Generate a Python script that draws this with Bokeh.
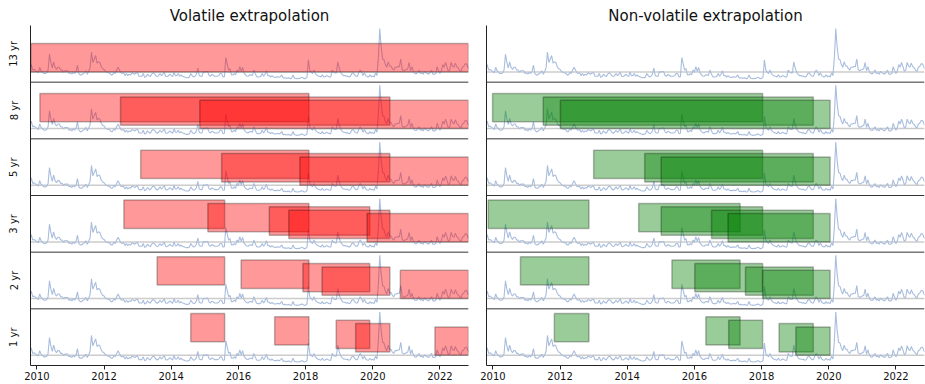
import numpy as np
from bokeh.plotting import figure
from bokeh.models import Range1d, FixedTicker, Span
from bokeh.layouts import row
from bokeh.embed import file_html
from bokeh.resources import INLINE

# ---------------- data ----------------
ROW_LABELS = ["13 yr", "8 yr", "5 yr", "3 yr", "2 yr", "1 yr"]
YEAR_TICKS = [2010, 2012, 2014, 2016, 2018, 2020, 2022]
X_START, X_END = 2009.81, 2022.85

# volatility index, sampled on the 1st and 16th of each month
vix_2009 = [22, 30, 22, 23, 21]  # from mid-October
vix_2010 = [20, 18, 26, 21, 19, 17, 17, 18, 22, 45, 33, 25, 34, 26, 23, 26, 26, 22, 22, 19, 21, 21, 21, 17]
vix_2011 = [18, 16, 19, 17, 20, 29, 17, 15, 15, 17, 18, 21, 16, 20, 25, 48, 33, 38, 43, 32, 34, 33, 27, 24]
vix_2012 = [23, 20, 19, 18, 18, 15, 15, 19, 17, 22, 26, 22, 18, 17, 18, 14, 17, 14, 16, 15, 18, 17, 16, 18]
vix_2013 = [18, 13, 13, 13, 17, 11.5, 12.5, 16, 14, 12.5, 16, 18, 17, 14, 12.5, 14, 17, 14, 16, 19, 13, 12.5, 13.7, 16]
vix_2014 = [14, 12.5, 19, 14, 14, 17, 13, 15, 13, 12.5, 11.5, 11, 11, 12, 17, 14, 12, 13, 16, 25, 14, 13, 13, 20]
vix_2015 = [19, 20, 20, 14.5, 13, 15.5, 14.5, 13, 13, 13, 14, 17, 17, 12, 12.5, 40, 31, 22, 24, 15, 15, 17, 15, 22]
vix_2016 = [19, 27, 20, 26, 18, 15, 13.5, 13, 15, 15, 14, 22, 17, 12.5, 12, 12, 13, 17, 13, 16, 21, 14, 14, 12]
vix_2017 = [14, 12, 11.5, 11.5, 12.5, 11.5, 12.5, 15, 10.5, 11, 10, 10.5, 11, 9.5, 10, 15, 10.5, 10, 9.5, 10, 10, 11.5, 11, 9.5]
vix_2018 = [10, 11.5, 37, 22, 19, 17, 22, 17, 15, 13.5, 13, 12, 15, 12, 12.5, 14, 13, 12, 12, 22, 19, 18, 18, 34]
vix_2019 = [25, 19, 16, 14, 14, 13, 13.5, 12, 13, 17, 18, 15, 13, 13, 18, 22, 19, 14, 18, 14, 12.5, 12, 15, 12.5]
vix_2020 = [13.5, 12, 18, 14, 40, 82, 55, 38, 37, 30, 26, 34, 28, 28, 24, 22, 26, 26, 27, 27, 38, 23, 21, 22]
vix_2021 = [23, 24, 33, 21, 27, 20, 17, 16.5, 18.5, 22, 17, 18, 16, 20, 18, 17, 16, 19, 22, 16, 16, 17, 27, 21]
vix_2022 = [17, 21, 30, 26, 33, 27, 20, 22, 33, 28, 26, 32, 27, 25, 22, 20, 26, 27, 31, 31, 26, 24]

# extrapolation windows (start / end, decimal years), one list per row
vol_start = [
    [2009.82],
    [2010.09, 2012.49, 2014.85],
    [2013.09, 2015.50, 2017.83],
    [2012.59, 2015.09, 2016.92, 2017.50, 2019.83],
    [2013.58, 2016.08, 2017.92, 2018.49, 2020.82],
    [2014.58, 2017.08, 2018.91, 2019.49, 2021.85],
]
vol_end = [
    [2022.85],
    [2018.10, 2020.51, 2022.85],
    [2018.10, 2020.51, 2022.85],
    [2015.59, 2018.10, 2019.91, 2020.51, 2022.85],
    [2015.59, 2018.10, 2019.91, 2020.51, 2022.85],
    [2015.59, 2018.10, 2019.91, 2020.51, 2022.85],
]
nonvol_start = [
    [],
    [2009.99, 2011.50, 2012.01],
    [2013.00, 2014.52, 2015.01],
    [2009.86, 2014.34, 2015.01, 2016.51, 2017.00],
    [2010.82, 2015.33, 2016.01, 2017.52, 2018.03],
    [2011.83, 2016.34, 2017.02, 2018.52, 2019.02],
]
nonvol_end = [
    [],
    [2018.03, 2019.54, 2020.04],
    [2018.03, 2019.54, 2020.04],
    [2012.86, 2017.36, 2018.03, 2019.54, 2020.04],
    [2012.86, 2017.36, 2018.03, 2019.54, 2020.04],
    [2012.86, 2017.36, 2018.03, 2019.54, 2020.04],
]

# ---------------- layout constants ----------------
V0 = 4.5          # value at the bottom of each row
R = 82            # value span of each row
BASELINE = 19.3   # grey reference level
RECT_H = 41
STEP = 4.9
N = len(ROW_LABELS)

# assemble the series
years = [(2009, vix_2009, 19), (2010, vix_2010, 0), (2011, vix_2011, 0), (2012, vix_2012, 0),
         (2013, vix_2013, 0), (2014, vix_2014, 0), (2015, vix_2015, 0), (2016, vix_2016, 0),
         (2017, vix_2017, 0), (2018, vix_2018, 0), (2019, vix_2019, 0), (2020, vix_2020, 0),
         (2021, vix_2021, 0), (2022, vix_2022, 0)]
xs, vs = [], []
for yr, vals, off in years:
    for i, v in enumerate(vals):
        xs.append(yr + (off + i) / 24.0)
        vs.append(v)
xs = np.array(xs)
vs = np.array(vs, dtype=float)

FONT = "DejaVu Sans"


def make_panel(title, starts, ends, color, labels, width, mb_left, mb_right):
    p = figure(width=width, height=384, x_range=Range1d(X_START, X_END),
               y_range=Range1d(0, N * R), output_backend="svg", toolbar_location=None,
               min_border_left=mb_left, min_border_right=mb_right,
               min_border_top=25, min_border_bottom=19, title=title)
    p.title.text_font = FONT
    p.title.text_font_size = "15px"
    p.title.text_font_style = "normal"
    p.title.text_color = "#111111"
    p.title.align = "center"
    p.title.standoff = 2
    p.xgrid.visible = False
    p.ygrid.visible = False
    p.outline_line_color = None

    for k in range(N):
        rb = (N - 1 - k) * R
        gl = Span(location=rb + BASELINE - V0, dimension="width", line_color="#cccccc",
                  line_width=1.5, level="underlay")
        p.add_layout(gl)
        p.line(xs, rb + vs - V0, line_color="#a9bddd", line_width=1.1)
        n = len(starts[k])
        if n:
            lv = np.array([n - 1 - i for i in range(n)])
            bottom = rb + BASELINE - V0 + lv * STEP
            p.quad(left=starts[k], right=ends[k], bottom=bottom, top=bottom + RECT_H,
                   fill_color=color, fill_alpha=0.4, line_color="black", line_alpha=0.27,
                   line_width=1.5)
    for k in range(1, N):
        p.add_layout(Span(location=k * R, dimension="width", line_color="#333333", line_width=1))

    xa = p.xaxis[0]
    xa.ticker = FixedTicker(ticks=YEAR_TICKS)
    xa.major_label_text_font = FONT
    xa.major_label_text_font_size = "10px"
    xa.major_label_text_color = "#111111"
    xa.axis_line_color = "#222222"
    xa.major_tick_line_color = "#222222"
    xa.major_tick_out = 4
    xa.major_tick_in = 0
    xa.minor_tick_line_color = None
    xa.major_label_standoff = 2

    ya = p.yaxis[0]
    ya.axis_line_color = "#222222"
    ya.major_tick_line_color = None
    ya.minor_tick_line_color = None
    if labels:
        centers = [(N - 1 - k) * R + R // 2 for k in range(N)]
        ya.ticker = FixedTicker(ticks=centers)
        ya.major_label_overrides = {c: lab for c, lab in zip(centers, ROW_LABELS)}
        ya.major_label_orientation = "vertical"
        ya.major_label_text_font = FONT
        ya.major_label_text_font_size = "10px"
        ya.major_label_text_color = "#111111"
        ya.major_label_standoff = 5
    else:
        ya.ticker = FixedTicker(ticks=[])
        ya.major_label_text_font_size = "0px"
    return p


p1 = make_panel("Volatile extrapolation", vol_start, vol_end, "red", True, 477, 30, 9)
p2 = make_panel("Non-volatile extrapolation", nonvol_start, nonvol_end, "green", False, 448, 9, 1)

layout = row(p1, p2)
open("out.html", "w").write(file_html(layout, INLINE))
